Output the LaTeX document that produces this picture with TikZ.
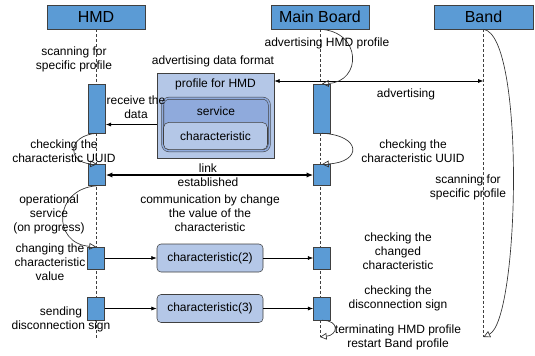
\documentclass[tikz,border=0pt]{standalone}
\usepackage{fontspec}
\setmainfont{Liberation Sans}
\usepackage{tikz}
\usetikzlibrary{arrows.meta,positioning}
\definecolor{hdrblue}{HTML}{5B9BD5}
\definecolor{paleblue}{HTML}{B4C7E7}
\definecolor{midblue}{HTML}{8FAADC}
\definecolor{edgegray}{HTML}{404040}

\begin{document}
\begin{tikzpicture}[
  x=0.75pt, y=-0.75pt,
  font=\fontsize{9}{10.5}\selectfont,
  head/.style={draw=edgegray, fill=hdrblue, minimum width=73.5pt, minimum height=18pt, inner sep=0pt, font=\fontsize{12}{14}\selectfont},
  act/.style={draw=edgegray, fill=hdrblue, minimum width=12.75pt, inner sep=0pt},
  msg/.style={draw=edgegray, fill=paleblue, rounded corners=3pt, minimum width=79.5pt, minimum height=21pt, inner sep=0pt},
  lbl/.style={align=center, inner sep=0pt},
  life/.style={draw=black!75, dash pattern=on 2.2pt off 1.5pt},
  arr/.style={-{Latex[length=4pt,width=3pt]}, line width=0.5pt},
  link/.style={{Latex[length=5pt,width=4pt]}-{Latex[length=5pt,width=4pt]}, line width=1.4pt},
  selfarr/.style={-{Triangle[open,length=5pt,width=5pt]}, line width=0.5pt, draw=black!80}
]
\useasboundingbox (0,0) rectangle (535,355);

\node[head] (hmd) at (96,17) {HMD};
\node[head] (mb) at (320,17) {Main Board};
\node[head, minimum width=74.25pt] (band) at (483.5,17) {Band};
\coordinate (hmdend) at (96,338);
\coordinate (mbend) at (320,337);
\coordinate (bandend) at (483.5,337);
\draw[life] (hmd) -- (hmdend);
\draw[life] (mb) -- (mbend);
\draw[life] (band) -- (bandend);

\node[act, minimum height=36.75pt] (h1) at (97,108.5) {};
\node[act, minimum height=15.75pt] (h2) at (97,175) {};
\node[act, minimum height=16.5pt] (h3) at (96,258) {};
\node[act, minimum height=17.25pt] (h4) at (96,308.5) {};
\node[act, minimum height=36.75pt] (m1) at (322,108.5) {};
\node[act, minimum height=15.75pt] (m2) at (322,175) {};
\node[act, minimum height=16.5pt] (m3) at (322,258) {};
\node[act, minimum height=17.25pt] (m4) at (322,308.5) {};

\node[draw=edgegray, fill=paleblue, minimum width=87.75pt, minimum height=63.75pt, inner sep=0pt] (prof) at (215.5,115.5) {};
\node[lbl] (proftxt) at (215.5,84) {profile for HMD};
\node[draw=edgegray, double=midblue, double distance=1.2pt, fill=midblue, rounded corners=5pt, minimum width=80pt, minimum height=39.5pt, inner sep=0pt] (svc) at (216,124.5) {};
\node[lbl] (svctxt) at (216,111) {service};
\node[draw=edgegray, fill=paleblue, rounded corners=4pt, minimum width=78pt, minimum height=20.5pt, inner sep=0pt] (chr) at (215.5,136) {characteristic};

\node[msg] (c2) at (210,258) {characteristic(2)};
\node[msg] (c3) at (210,308.5) {characteristic(3)};

\coordinate (adv) at (320,81);
\draw[arr] (adv) -- (prof.east |- adv);
\draw[arr] (adv) -- (bandend |- adv);
\draw[arr] (prof.west |- svc.center) -- (h1.east |- svc.center);
\draw[link] (h2.east) -- (m2.west);
\draw[arr] (h3.east) -- (c2.west);
\draw[arr] (c2.east) -- (m3.west);
\draw[arr] (h4.east) -- (c3.west);
\draw[arr] (c3.east) -- (m4.west);

\draw[selfarr] (mb.south) .. controls +(42,2) and +(40,-2) .. (m1.north);
\draw[selfarr] (m1.south) .. controls +(40,2) and +(40,-2) .. (m2.north);
\draw[selfarr] (h1.south) .. controls +(-30,2) and +(-30,-2) .. (h2.north);
\draw[selfarr] (h2.south) .. controls +(-44,3) and +(-44,-3) .. (h3.north);
\draw[selfarr] (m4.south) .. controls +(18,0) and +(18,-2) .. (mbend);
\draw[selfarr] (band.south) .. controls +(42,6) and +(36,-17) .. (bandend);

\node[lbl] (scanhmd) at (74,59) {scanning for\\specific profile};
\node[lbl] (advfmt) at (213,61) {advertising data format};
\node[lbl] (advhmd) at (327,43) {advertising HMD profile};
\node[lbl] (advtxt) at (406,94) {advertising};
\node[lbl] (recv) at (136,107) {receive the\\data};
\node[lbl] (uuidhmd) at (64,151) {checking the\\characteristic UUID};
\node[lbl] (uuidmb) at (413,151) {checking the\\characteristic UUID};
\node[lbl] (linktxt) at (208,175) {link\\established};
\node[lbl] (commtxt) at (210,213) {communication by change\\the value of the\\characteristic};
\node[lbl] (scanband) at (468,187) {scanning for\\specific profile};
\node[lbl] (oper) at (49,214) {operational\\service\\(on progress)};
\node[lbl] (chg) at (50,262) {changing the\\characteristic\\value};
\node[lbl] (send) at (61,319) {sending\\disconnection sign};
\node[lbl] (chkchg) at (398,251) {checking the\\changed\\characteristic};
\node[lbl] (chkdis) at (398,298) {checking the\\disconnection sign};
\node[lbl] (term) at (398,337) {terminating HMD profile\\restart Band profile};
\end{tikzpicture}
\end{document}
